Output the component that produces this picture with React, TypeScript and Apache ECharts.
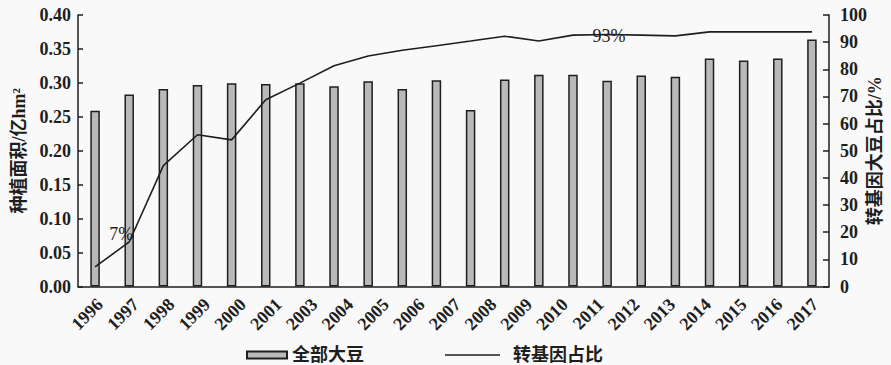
import React, { useEffect, useRef } from "react";
import * as echarts from "echarts";

// Bar/line positions: 22 years (1996-2017)
const barYears = [
  "1996", "1997", "1998", "1999", "2000", "2001", "2002", "2003", "2004", "2005", "2006",
  "2007", "2008", "2009", "2010", "2011", "2012", "2013", "2014", "2015", "2016", "2017",
];
// Tick labels as printed on the original chart (2002 is missing)
const tickLabels = [
  "1996", "1997", "1998", "1999", "2000", "2001", "2003", "2004", "2005", "2006", "2007",
  "2008", "2009", "2010", "2011", "2012", "2013", "2014", "2015", "2016", "2017",
];
// 全部大豆 种植面积 (亿hm²)
const soybeanArea = [
  0.259, 0.283, 0.291, 0.297, 0.2995, 0.2985, 0.2995, 0.295, 0.3025, 0.291, 0.304,
  0.26, 0.305, 0.312, 0.312, 0.303, 0.311, 0.309, 0.336, 0.333, 0.336, 0.364,
];
// 转基因大豆占比 (%)
const gmShare = [
  7.2, 16.4, 44.5, 55.9, 54.0, 68.8, 74.9, 81.3, 84.9, 87.0, 88.7,
  90.4, 92.2, 90.4, 92.6, 92.8, 92.6, 92.3, 93.8, 93.8, 93.8, 93.8,
];
const annotations = [
  { index: 1, text: "7%", offset: [-8, -8] },
  { index: 15, text: "93%", offset: [2, 1] },
];

const seriesBar = "全部大豆";
const seriesLine = "转基因占比";
const leftName = "种植面积/亿hm²";
const rightName = "转基因大豆占比/%";

const FONT = "'Liberation Serif', 'Noto Sans CJK SC', serif";
const INK = "#1e1e1e";

export default function App() {
  const ref = useRef<HTMLDivElement>(null);
  useEffect(() => {
    if (!ref.current) return;
    const chart = echarts.init(ref.current, undefined, { renderer: "svg" });
    chart.setOption({
      animation: false,
      backgroundColor: "#f9f9f9",
      grid: {
        left: 78,
        right: 62,
        top: 15,
        bottom: 78.5,
        containLabel: false,
        outerBoundsMode: "none",
      },
      legend: [
        {
          data: [seriesBar],
          left: 241,
          top: 341,
          icon: "rect",
          itemWidth: 40,
          itemHeight: 7,
          textStyle: { fontFamily: FONT, fontSize: 18, fontWeight: "bold", color: INK },
        },
        {
          data: [{ name: seriesLine, icon: "rect", itemStyle: { color: INK, borderWidth: 0 } }],
          left: 440,
          top: 341,
          itemWidth: 55,
          itemHeight: 1.6,
          textStyle: {
            fontFamily: FONT,
            fontSize: 18,
            fontWeight: "bold",
            color: INK,
            padding: [0, 0, 0, 8],
          },
        },
      ],
      xAxis: [
        {
          type: "category",
          data: barYears,
          position: "bottom",
          axisLine: { show: true, onZero: false, lineStyle: { color: INK, width: 1.5 } },
          axisTick: { show: false },
          axisLabel: { show: false },
        },
        {
          type: "category",
          data: tickLabels,
          position: "bottom",
          axisLine: { show: false, onZero: false },
          axisTick: { show: false },
          axisLabel: { show: false },
        },
      ],
      yAxis: [
        {
          type: "value",
          min: 0,
          max: 0.4,
          interval: 0.05,
          name: leftName,
          nameLocation: "middle",
          nameRotate: 90,
          nameGap: 50,
          nameMoveOverlap: false,
          nameTextStyle: { fontFamily: FONT, fontSize: 18, fontWeight: "bold", color: INK },
          axisLine: { show: true, lineStyle: { color: INK, width: 1.5 } },
          axisTick: { show: true, inside: true, length: 5, lineStyle: { color: INK, width: 1.5 } },
          axisLabel: {
            margin: 7,
            formatter: (v: number) => v.toFixed(2),
            fontFamily: FONT,
            fontSize: 18,
            fontWeight: "bold",
            color: INK,
          },
          splitLine: { show: false },
        },
        {
          type: "value",
          min: 0,
          max: 100,
          interval: 10,
          position: "right",
          name: rightName,
          nameLocation: "middle",
          nameRotate: 90,
          nameGap: 37,
          nameMoveOverlap: false,
          nameTextStyle: { fontFamily: FONT, fontSize: 18, fontWeight: "bold", color: INK },
          axisLine: { show: true, lineStyle: { color: INK, width: 1.5 } },
          axisTick: { show: true, inside: true, length: 6, lineStyle: { color: INK, width: 1.5 } },
          axisLabel: {
            margin: 11,
            fontFamily: FONT,
            fontSize: 18,
            fontWeight: "bold",
            color: INK,
          },
          splitLine: { show: false },
        },
      ],
      series: [
        {
          name: seriesBar,
          type: "bar",
          xAxisIndex: 0,
          yAxisIndex: 0,
          data: soybeanArea,
          barWidth: 9.5,
          itemStyle: { color: "#b9b9b9", borderColor: "#1e1e1e", borderWidth: 1.5 },
        },
        {
          name: seriesLine,
          type: "line",
          xAxisIndex: 0,
          yAxisIndex: 1,
          data: gmShare,
          symbol: "none",
          lineStyle: { color: "#1e1e1e", width: 1.6 },
          itemStyle: { color: "#1e1e1e" },
          z: 3,
          markPoint: {
            symbol: "circle",
            symbolSize: 1,
            itemStyle: { color: "rgba(0,0,0,0)" },
            data: annotations.map((a) => ({
              coord: [a.index, gmShare[a.index]],
              label: {
                show: true,
                position: "inside",
                offset: a.offset,
                formatter: a.text,
                fontFamily: FONT,
                fontSize: 18,
                color: INK,
              },
            })),
          },
        },
        {
          // rotated x tick labels placed on the 21-slot label axis
          type: "custom",
          xAxisIndex: 1,
          yAxisIndex: 0,
          silent: true,
          clip: false,
          data: tickLabels.map((_, i) => [i, 0]),
          renderItem: (params: any, api: any) => {
            const p = api.coord([api.value(0), api.value(1)]);
            return {
              type: "text",
              x: p[0] + 4,
              y: p[1] + 15,
              rotation: Math.PI / 4,
              style: {
                text: tickLabels[params.dataIndex],
                align: "right",
                verticalAlign: "middle",
                fontFamily: FONT,
                fontSize: 18,
                fontWeight: "bold",
                fill: INK,
              },
            };
          },
        },
      ],
    });
    return () => chart.dispose();
  }, []);
  return (
    <div
      ref={ref}
      style={{ position: "fixed", left: 0, top: 0, width: 891, height: 365 }}
    />
  );
}
